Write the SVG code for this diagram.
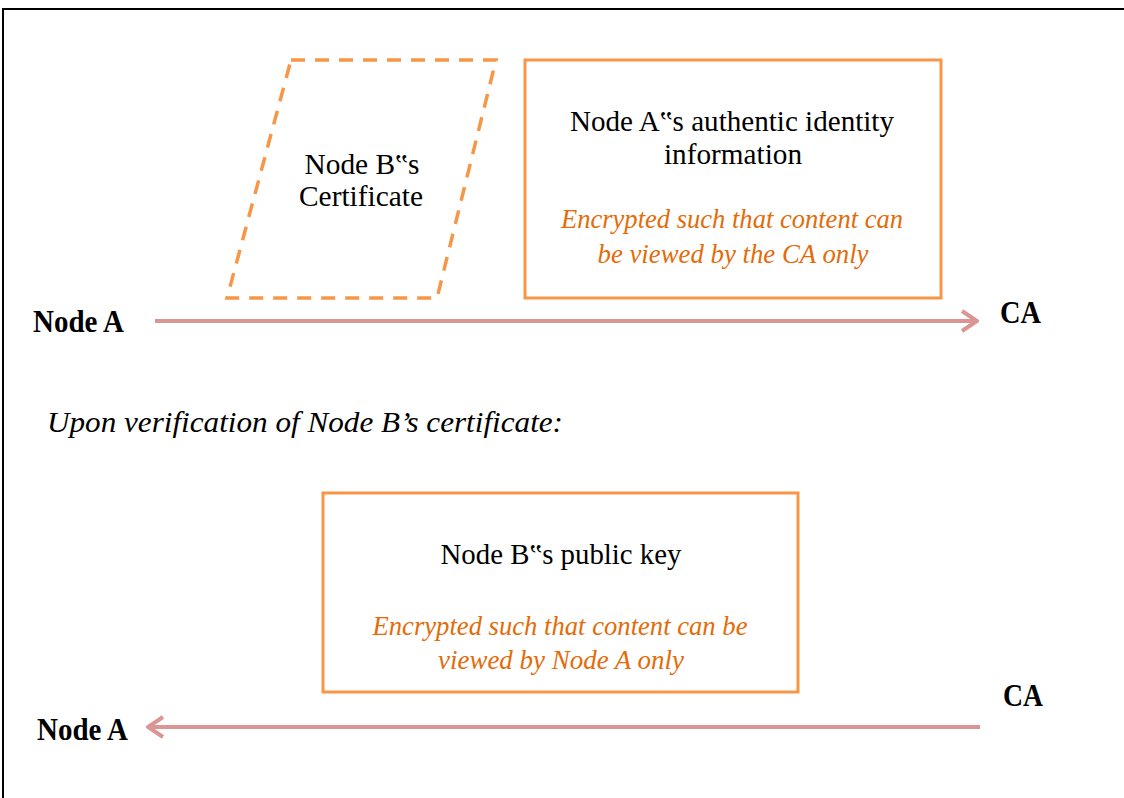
<svg xmlns="http://www.w3.org/2000/svg" width="1124" height="798" viewBox="0 0 1124 798">
  <style>
    .frame { fill: none; stroke: #000; stroke-width: 2; }
    .box { fill: #fff; stroke: #F79646; stroke-width: 3; }
    .dashed { fill: none; stroke: #F79646; stroke-width: 3.5; stroke-dasharray: 14 10; }
    .label { font-family: "Liberation Serif", "Times New Roman", serif; font-size: 29px; fill: #000; text-anchor: middle; }
    .note { font-family: "Liberation Serif", "Times New Roman", serif; font-size: 26.5px; font-style: italic; fill: #E36C09; text-anchor: middle; }
    .party { font-family: "Liberation Serif", "Times New Roman", serif; font-size: 31px; font-weight: bold; fill: #000; }
    .caption { font-family: "Liberation Serif", "Times New Roman", serif; font-size: 30px; font-style: italic; fill: #000; }
    .flow { fill: none; stroke: #D99694; stroke-width: 4; }
  </style>
  <defs>
    <marker id="chevron" viewBox="0 0 20 24" refX="18" refY="12" markerWidth="20" markerHeight="24" markerUnits="userSpaceOnUse" orient="auto">
      <path d="M3,2 L18,12 L3,22" fill="none" stroke="#D99694" stroke-width="4"/>
    </marker>
  </defs>

  <rect width="1124" height="798" fill="#fff"/>
  <path class="frame" d="M3,798 V9 H1124"/>

  <g id="certificate">
    <polygon class="dashed" points="291,60 496,60 437,298 227,298"/>
    <text class="label" x="362" y="174" textLength="115" lengthAdjust="spacingAndGlyphs">Node B‟s</text>
    <text class="label" x="361" y="206" textLength="124" lengthAdjust="spacingAndGlyphs">Certificate</text>
  </g>

  <g id="identity">
    <rect class="box" x="525" y="60" width="416" height="238"/>
    <text class="label" x="732" y="131" textLength="324" lengthAdjust="spacingAndGlyphs">Node A‟s authentic identity</text>
    <text class="label" x="733" y="164" textLength="138" lengthAdjust="spacingAndGlyphs">information</text>
    <text class="note" x="732" y="228" textLength="342" lengthAdjust="spacingAndGlyphs">Encrypted such that content can</text>
    <text class="note" x="733" y="263" textLength="271" lengthAdjust="spacingAndGlyphs">be viewed by the CA only</text>
  </g>

  <g id="nodeA-top"><text class="party" x="33" y="332" textLength="91" lengthAdjust="spacingAndGlyphs">Node A</text></g>
  <g id="ca-top"><text class="party" x="1000" y="323" textLength="41" lengthAdjust="spacingAndGlyphs">CA</text></g>

  <text class="caption" x="47" y="432" textLength="516" lengthAdjust="spacingAndGlyphs">Upon verification of Node B’s certificate:</text>

  <g id="public-key">
    <rect class="box" x="323" y="493" width="475" height="199"/>
    <text class="label" x="561" y="564" textLength="241" lengthAdjust="spacingAndGlyphs">Node B‟s public key</text>
    <text class="note" x="560" y="635" textLength="375" lengthAdjust="spacingAndGlyphs">Encrypted such that content can be</text>
    <text class="note" x="561" y="669" textLength="246" lengthAdjust="spacingAndGlyphs">viewed by Node A only</text>
  </g>

  <g id="ca-bottom"><text class="party" x="1003" y="706" textLength="40" lengthAdjust="spacingAndGlyphs">CA</text></g>
  <g id="nodeA-bottom"><text class="party" x="37" y="740" textLength="91" lengthAdjust="spacingAndGlyphs">Node A</text></g>

  <g id="connectors">
    <line class="flow" x1="155" y1="321" x2="977" y2="321" marker-end="url(#chevron)"/>
    <line class="flow" x1="980" y1="727" x2="148" y2="727" marker-end="url(#chevron)"/>
  </g>
</svg>
